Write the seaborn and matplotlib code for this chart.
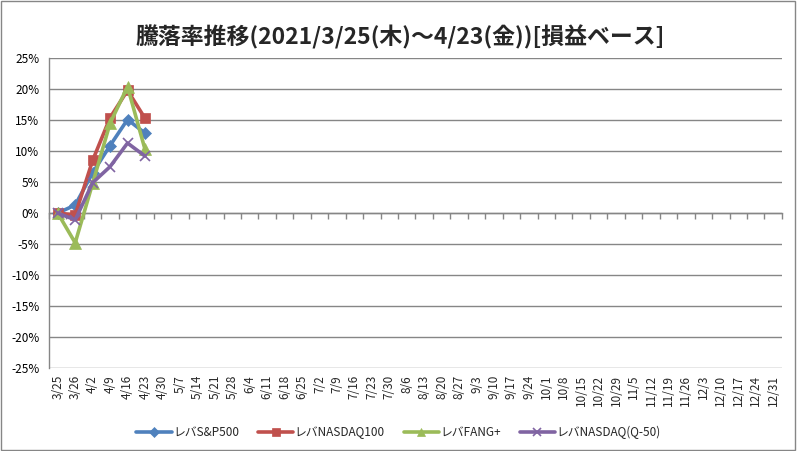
import matplotlib
matplotlib.use("Agg")
import matplotlib.pyplot as plt
import matplotlib.ticker as mticker
from matplotlib.patches import Rectangle
import seaborn as sns
import pandas as pd

dates = ["3/25", "3/26", "4/2", "4/9", "4/16", "4/23", "4/30", "5/7", "5/14", "5/21",
         "5/28", "6/4", "6/11", "6/18", "6/25", "7/2", "7/9", "7/16", "7/23", "7/30",
         "8/6", "8/13", "8/20", "8/27", "9/3", "9/10", "9/17", "9/24", "10/1", "10/8",
         "10/15", "10/22", "10/29", "11/5", "11/12", "11/19", "11/26", "12/3", "12/10",
         "12/17", "12/24", "12/31"]

series_names = ["レバS&P500", "レバNASDAQ100", "レバFANG+", "レバNASDAQ(Q-50)"]
sp500 = [0.000, 0.013, 0.065, 0.109, 0.151, 0.129]
nasdaq100 = [0.000, -0.003, 0.085, 0.154, 0.198, 0.153]
fang = [0.000, -0.048, 0.048, 0.145, 0.204, 0.103]
q50 = [0.000, -0.011, 0.049, 0.075, 0.113, 0.092]

colors = ["#4F81BD", "#C0504D", "#9BBB59", "#8064A2"]
markers = ["D", "s", "^", "x"]
msizes = [6, 7.5, 8, 7]

rows = []
for name, vals in zip(series_names, [sp500, nasdaq100, fang, q50]):
    for i, v in enumerate(vals):
        rows.append({"pos": i, "date": dates[i], "value": v, "series": name})
df = pd.DataFrame(rows)

sns.set_style("white")
plt.rcParams["font.family"] = ["Noto Sans CJK JP", "DejaVu Sans"]

fig = plt.figure(figsize=(7.97, 4.51), dpi=100)
ax = fig.add_axes([0.0615, 0.184, 0.9195, 0.687])

for name, c, m, ms in zip(series_names, colors, markers, msizes):
    sub = df[df["series"] == name]
    sns.lineplot(data=sub, x="pos", y="value", color=c, marker=m, markersize=ms,
                 linewidth=2.6, ax=ax, legend=False, mec=c, mew=1.2 if m == "x" else 0.5,
                 zorder=3)

ax.set_xlim(-0.5, len(dates) - 0.5)
ax.set_ylim(-0.25, 0.25)
ax.set_xlabel("")
ax.set_ylabel("")

gray = "#868686"
ax.yaxis.set_major_locator(mticker.MultipleLocator(0.05))
ax.yaxis.set_major_formatter(mticker.FuncFormatter(lambda v, p: f"{round(v*100):d}%"))
ax.tick_params(axis="y", which="major", length=4, width=1, color=gray, labelsize=8.5,
               direction="out", pad=3, labelcolor="black")

# category axis line crosses at 0, tick marks between categories
ax.spines["bottom"].set_position(("data", 0))
ax.spines["bottom"].set_color(gray)
ax.spines["bottom"].set_linewidth(1)
ax.xaxis.set_major_locator(mticker.FixedLocator([i - 0.5 for i in range(len(dates) + 1)]))
ax.xaxis.set_major_formatter(mticker.NullFormatter())
ax.tick_params(axis="x", which="major", length=4, width=1, color=gray, direction="out",
               bottom=True, labelbottom=False)

# category labels at the bottom of the plot area
lab = ax.secondary_xaxis("bottom")
lab.spines["bottom"].set_visible(False)
lab.xaxis.set_major_locator(mticker.FixedLocator(list(range(len(dates)))))
lab.xaxis.set_major_formatter(mticker.FixedFormatter(dates))
lab.tick_params(axis="x", length=0, pad=5, labelsize=8.5, labelrotation=90)

ax.grid(axis="y", color=gray, linewidth=1)
ax.set_axisbelow(True)
for sp in ["top", "right"]:
    ax.spines[sp].set_visible(False)
ax.spines["left"].set_color(gray)
ax.spines["left"].set_linewidth(1)
fig.canvas.draw()
ax.yaxis.get_gridlines()[0].set_visible(False)

handles = ax.lines[:4]
fig.legend(handles, series_names, loc="center", bbox_to_anchor=(0.5, 0.042), ncol=4,
           frameon=False, fontsize=8.5, handlelength=3.0, columnspacing=1.6,
           handletextpad=0.1, markerscale=0.8)

fig.suptitle("騰落率推移(2021/3/25(木)～4/23(金))[損益ベース]", x=0.502, y=0.945,
             fontsize=16.5, fontweight="bold")

fig.patches.append(Rectangle((0.001, 0.002), 0.996, 0.995, transform=fig.transFigure,
                             fill=False, edgecolor=gray, linewidth=1))

fig.savefig("out.png", dpi=100)
